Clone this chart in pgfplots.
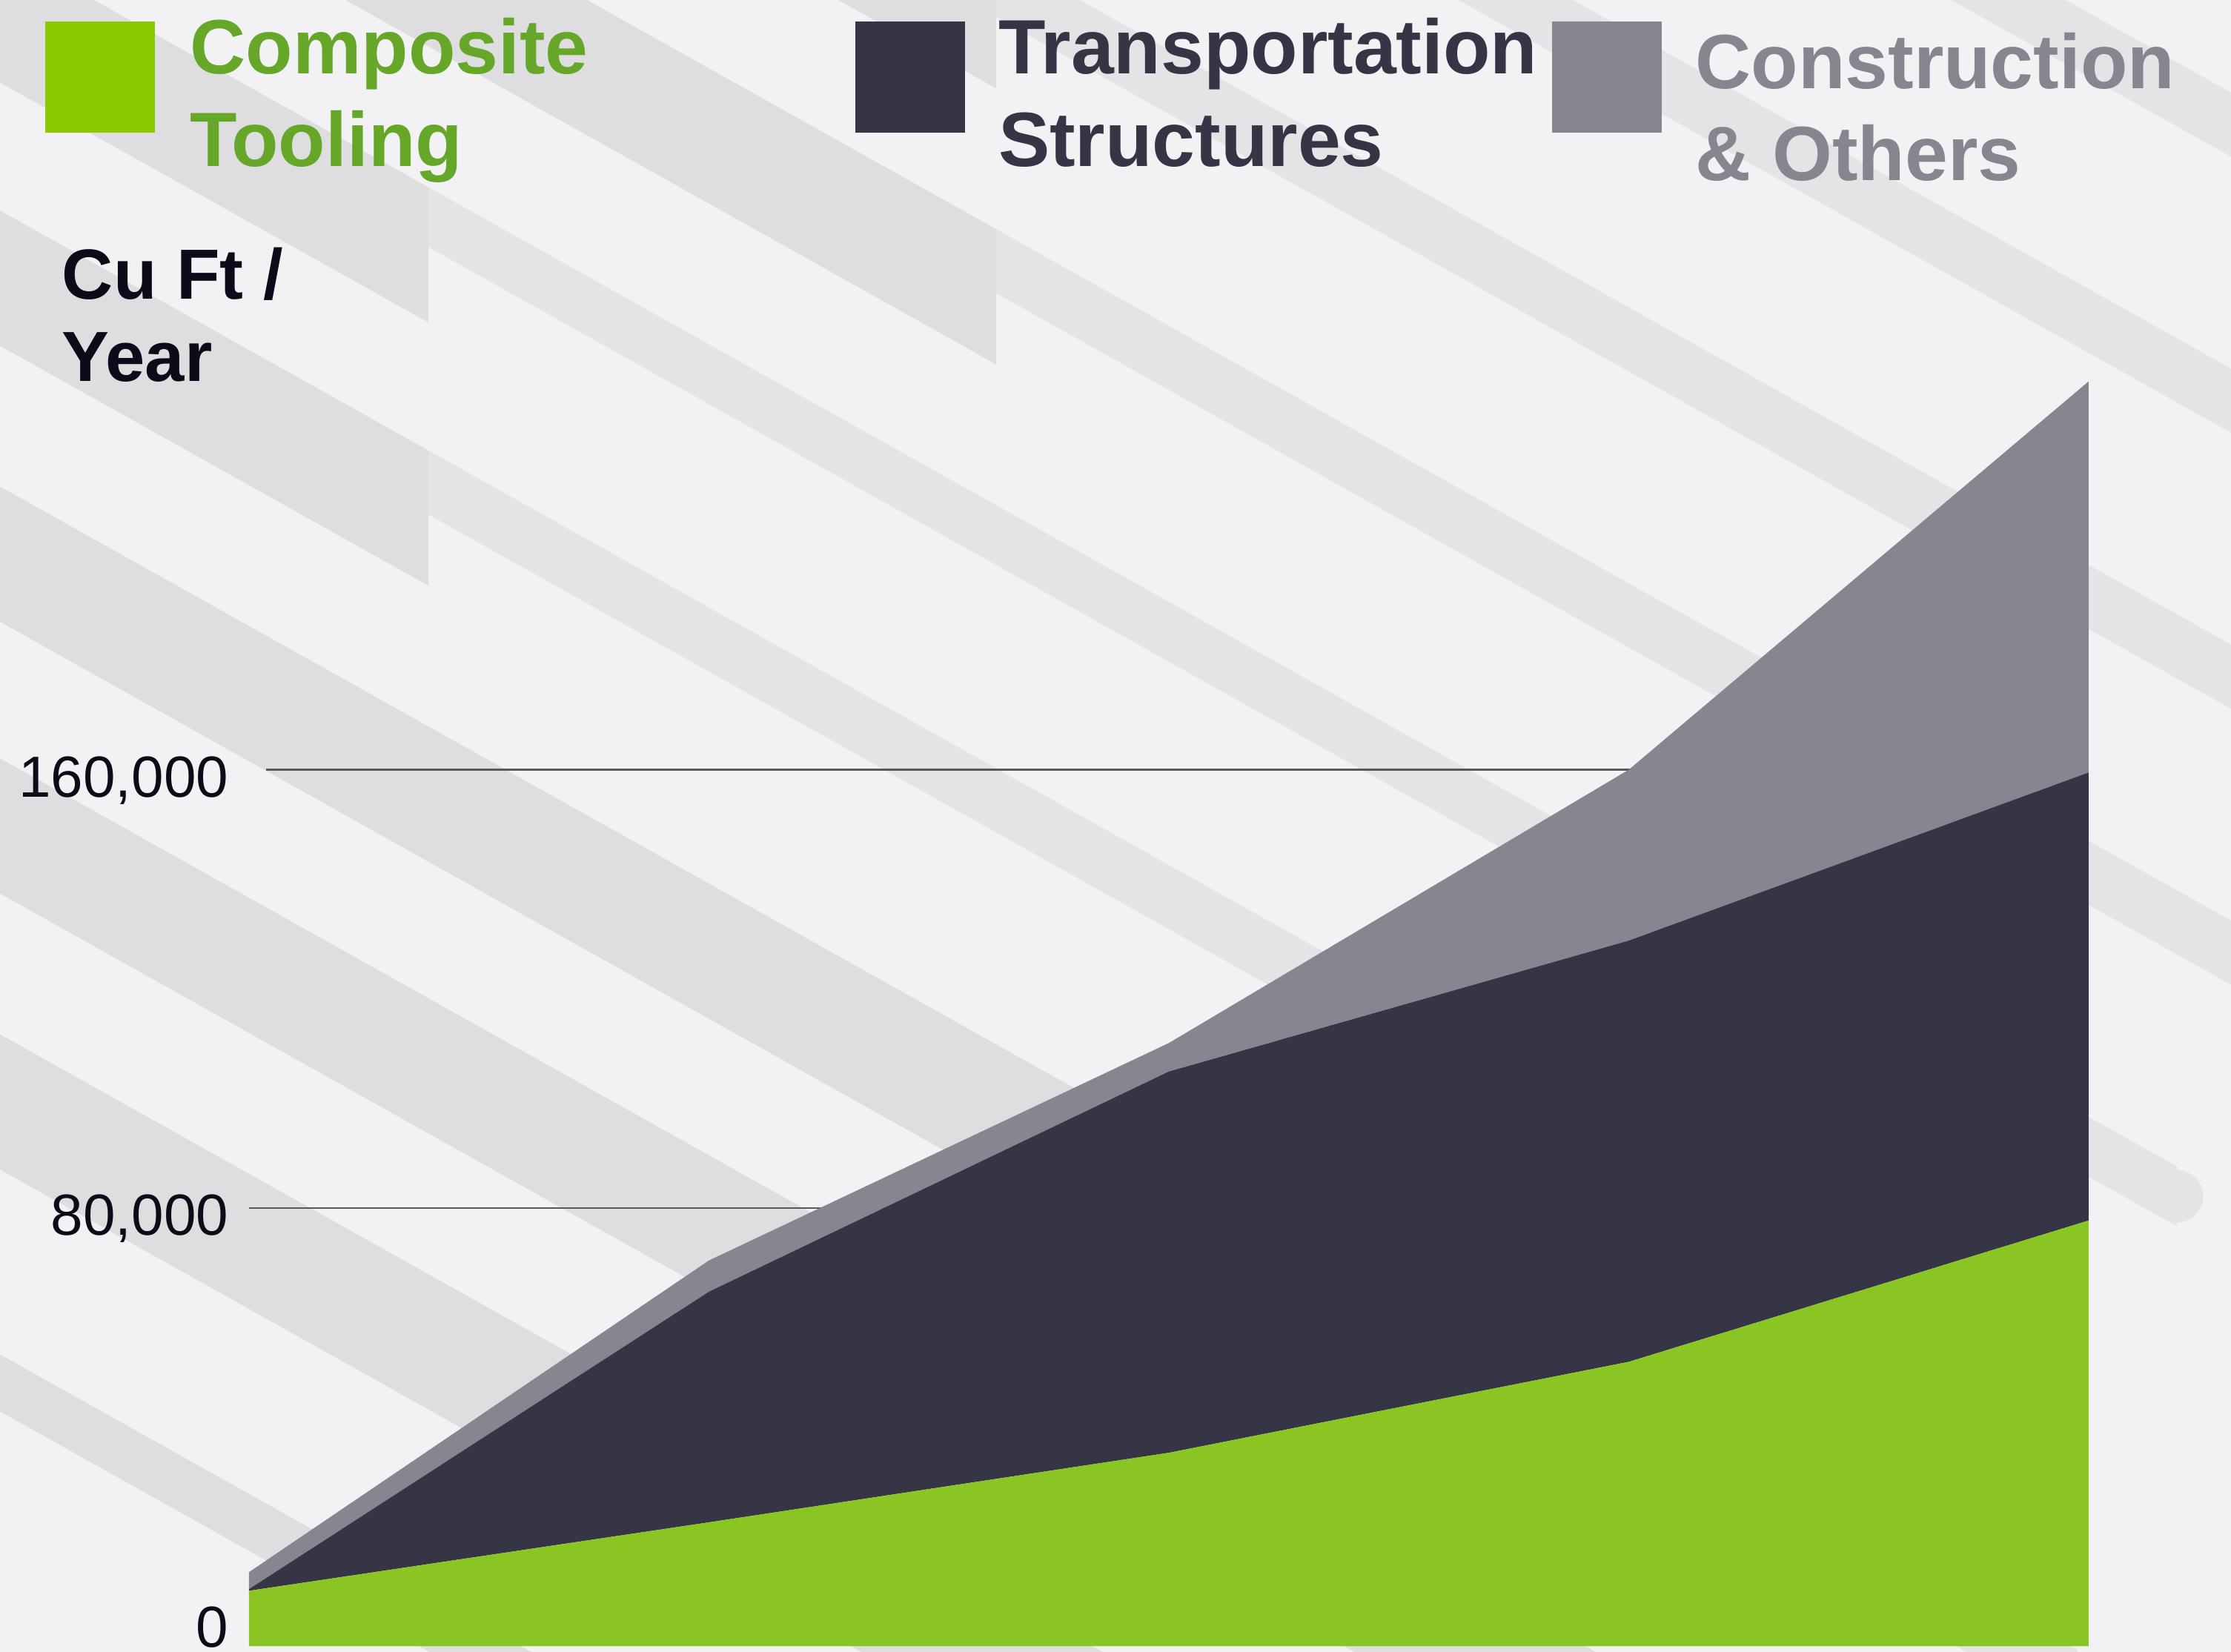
\documentclass[border=0pt]{standalone}
\usepackage{fontspec}
\setmainfont{Liberation Sans}
\usepackage{pgfplots}
\pgfplotsset{compat=1.18}
\definecolor{bg}{HTML}{F2F2F4}
\definecolor{stripeA}{HTML}{DEDEE0}
\definecolor{stripeB}{HTML}{E4E4E6}
\definecolor{cgreen}{HTML}{8BC524}
\definecolor{cgreenbox}{HTML}{8AC800}
\definecolor{cgreentxt}{HTML}{66A628}
\definecolor{cdark}{HTML}{363545}
\definecolor{cgray}{HTML}{868590}
\definecolor{ctext}{HTML}{0B0B1A}
\begin{document}
\begin{tikzpicture}[x=0.1mm,y=-0.1mm]
\path[use as bounding box] (0,0) rectangle (1568,1161);
\fill[bg] (0,0) rectangle (1568,1161);
\begin{scope}
\clip (0,0) rectangle (1568,1161);
% c = upper edge at x=0, xs = step, xe = end of thin part
\foreach \c/\xs/\xe in {-813/700/1568, -619/700/1568, -425/700/1568, -231/700/1568, 148/301/1460, 342/900/1460, 533/1460/1460, 727/1460/1460} {
  \fill[stripeA] (0,\c) -- (\xs,{\c+0.56*\xs}) -- (\xs,{\c+0.56*\xs+95}) -- (0,{\c+95}) -- cycle;
  \fill[stripeB] (\xs,{\c+0.56*\xs}) -- (\xe,{\c+0.56*\xe}) -- (\xe,{\c+0.56*\xe+45}) -- (\xs,{\c+0.56*\xs+45}) -- cycle;
}
% band ending with a rounded cap at the right
\fill[stripeA] (0,-37) -- (301,{-37+0.56*301}) -- (301,{-37+0.56*301+95}) -- (0,58) -- cycle;
\fill[stripeB] (301,{-37+0.56*301}) -- (1530,{-37+0.56*1530}) -- (1530,{-37+0.56*1530+42}) -- (301,{-37+0.56*301+42}) -- cycle;
\fill[stripeB] (1530,{-37+0.56*1530+21}) circle[radius=1.835mm];
\fill[stripeA] (0,952) -- (800,{952+0.56*800}) -- (800,{952+0.56*800+40}) -- (0,992) -- cycle;
\end{scope}
% legend
\fill[cgreenbox] (32,15) rectangle (109,93);
\fill[cdark] (601,15) rectangle (678,93);
\fill[cgray] (1091,15) rectangle (1168,93);
\begin{scope}[every node/.style={inner sep=0pt, anchor=base west, font=\bfseries\fontsize{15.4}{18.5}\selectfont}]
\node[text=cgreentxt] at (133,52) {Composite};
\node[text=cgreentxt] at (133,117) {Tooling};
\node[text=cdark] at (701,52) {Transportation};
\node[text=cdark] at (701,117) {Structures};
\node[text=cgray] at (1191,62) {Construction};
\node[text=cgray] at (1191,127) {\& Others};
\end{scope}
\begin{scope}[every node/.style={inner sep=0pt, anchor=base west, text=ctext, font=\bfseries\fontsize{14.2}{17}\selectfont}]
\node at (43,210) {Cu Ft /};
\node at (43,268) {Year};
\end{scope}
\begin{axis}[
  at={(17.5mm,-115.7mm)}, anchor=south west,
  scale only axis, width=129.3mm, height=92.4mm,
  xmin=0, xmax=4, ymin=0, ymax=240000,
  stack plots=y,
  axis line style={draw=none},
  major tick length=0pt,
  xtick=\empty,
  scaled y ticks=false,
  ytick={80000,160000},
  yticklabels={{80,000},{160,000}},
  extra y ticks={0},
  extra y tick labels={0},
  extra y tick style={ymajorgrids=false, yticklabel style={yshift=2.1mm}},
  ymajorgrids,
  grid style={line width=0.35pt, color=black!65, shorten <=1.2mm},
  yticklabel style={font=\fontsize{11.6}{13}\selectfont, text=ctext, anchor=east, xshift=-0.2mm, yshift=-0.75mm},
  /pgf/number format/assume math mode=true,
  clip=false,
]
\addplot[fill=cgreen, draw=none] coordinates {(0,10100) (1,22600) (2,35300) (3,51900) (4,77700)} \closedcycle;
\addplot[fill=cdark, draw=none] coordinates {(0,300) (1,42100) (2,69600) (3,76900) (4,81800)} \closedcycle;
\addplot[fill=cgray, draw=none] coordinates {(0,3100) (1,5700) (2,5200) (3,31200) (4,71400)} \closedcycle;
\end{axis}
\end{tikzpicture}
\end{document}
